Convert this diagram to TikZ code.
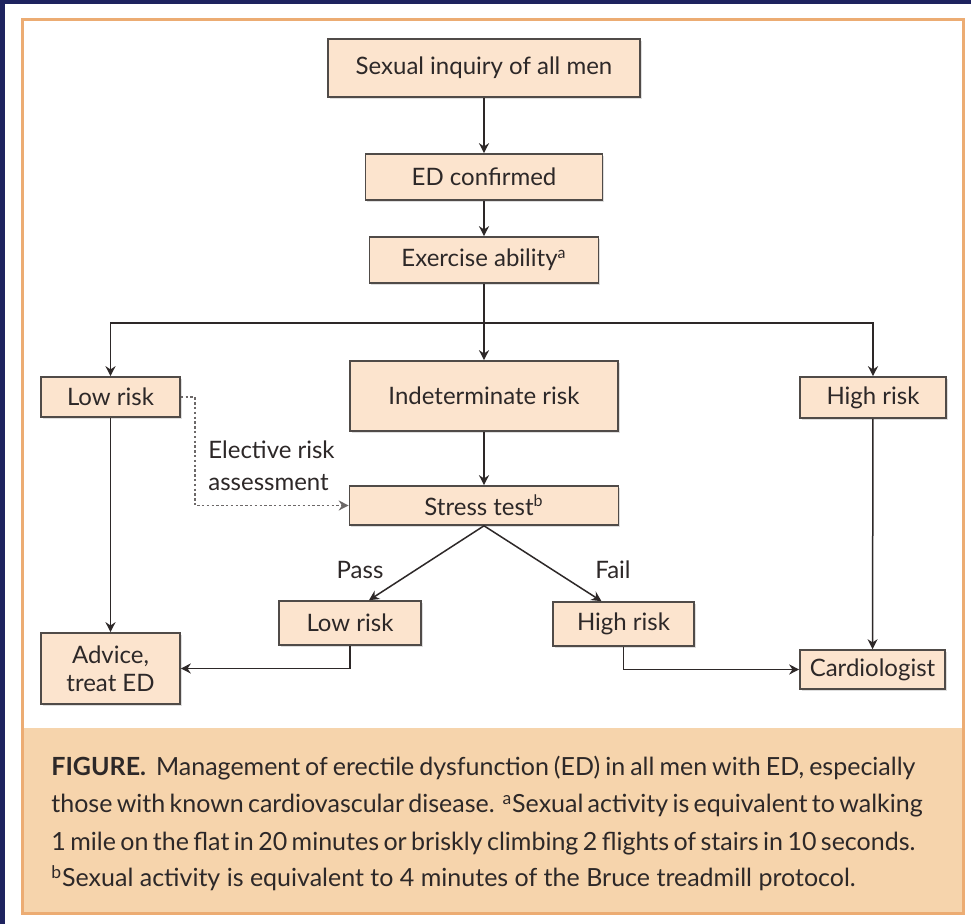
\documentclass[tikz,border=0pt]{standalone}
\usepackage{fontspec}
\setmainfont{Lato}
\newfontfamily\capfont{Lato}
\usetikzlibrary{arrows.meta,calc,shadows}
\definecolor{navy}{RGB}{30,35,95}
\definecolor{frameor}{RGB}{236,172,115}
\definecolor{capfill}{RGB}{246,212,172}
\definecolor{boxfill}{RGB}{252,228,206}
\definecolor{boxline}{RGB}{80,75,72}
\definecolor{ink}{RGB}{45,40,40}
\begin{document}
\begin{tikzpicture}[x=0.5pt,y=-0.5pt,
 bx/.style={draw=boxline, fill=boxfill, line width=0.8pt, inner sep=0pt, font=\fontsize{12}{14}\selectfont, text=ink, align=center,
   drop shadow={shadow xshift=0.8pt, shadow yshift=-0.8pt, fill=black!25, opacity=0.5}},
 lbl/.style={inner sep=0pt, font=\fontsize{12}{16}\selectfont, text=ink},
 captxt/.style={inner sep=0pt, font=\capfont\fontsize{12.5}{15}\selectfont, text=ink},
 ln/.style={draw=ink, line width=0.75pt},
 arr/.style={ln, -{Stealth[length=5pt,width=5pt]}},
 dotarr/.style={draw=ink!70, line width=0.75pt, dash pattern=on 1.2pt off 1.2pt, -{Stealth[length=5pt,width=5pt]}},
]
\fill[navy] (0,0) rectangle (971,924);
\fill[white] (5,4) rectangle (971,924);
\fill[capfill] (22,728) rectangle (963,914);
\draw[frameor, line width=1.5pt] (22,20) rectangle (963,914);
\useasboundingbox (0,0) rectangle (971,924);

\node[bx, minimum width=156pt, minimum height=29pt] (b1) at (484,68) {Sexual inquiry of all men};
\node[bx, minimum width=118.5pt, minimum height=23pt] (b2) at (484,177) {ED confirmed};
\node[bx, minimum width=114.5pt, minimum height=23pt] (b3) at (484,260) {Exercise ability\textsuperscript{a}};
\node[bx, minimum width=69.5pt, minimum height=20pt] (lowL) at (110.5,397) {Low risk};
\node[bx, minimum width=134pt, minimum height=35pt] (ind) at (484,396) {Indeterminate risk};
\node[bx, minimum width=73pt, minimum height=20.5pt] (highR) at (873,397.5) {High risk};
\node[bx, minimum width=134.5pt, minimum height=19.5pt] (stress) at (484,505.5) {Stress test\textsuperscript{b}};
\node[bx, minimum width=71pt, minimum height=22pt] (lowR2) at (350,623) {Low risk};
\node[bx, minimum width=70.5pt, minimum height=22pt] (highR2) at (623.5,624) {High risk};
\node[bx, minimum width=69.5pt, minimum height=35.5pt] (adv) at (110.5,668.5) {Advice,\\treat ED};
\node[bx, minimum width=72.5pt, minimum height=19.5pt] (card) at (872.5,669.5) {Cardiologist};

\coordinate (split) at (484,323);

\draw[arr] (b1) -- (b2);
\draw[arr] (b2) -- (b3);
\draw[ln] (b3.south) -- (split);
\draw[arr] (split) -- (ind.north);
\draw[arr] (split) -| (lowL.north);
\draw[arr] (split) -| (highR.north);
\draw[arr] (ind) -- (stress);
\draw[dotarr] (lowL.east) -- ++(14,0) |- (stress.west);
\node[lbl, anchor=west, align=left] (elect) at (208,466) {Elective risk\\assessment};
\draw[arr] (stress.south) -- ($(lowR2.north)+(19,0)$);
\draw[arr] (stress.south) -- ($(highR2.north)+(-22,0)$);
\node[lbl] (pass) at (360,570) {Pass};
\node[lbl] (fail) at (613,570) {Fail};
\draw[arr] (lowL) -- (adv);
\draw[arr] (highR) -- (card);
\draw[arr] (lowR2.south) |- (adv.east);
\draw[arr] (highR2.south) |- (card.west);

\node[captxt, anchor=base west] (c1) at (51,776) {\makebox[432pt][s]{\textbf{FIGURE.}\ \ Management of erectile dysfunction (ED) in all men with ED, especially}};
\node[captxt, anchor=base west] (c2) at (51,813) {\makebox[432pt][s]{those with known cardiovascular disease. \textsuperscript{a}Sexual activity is equivalent to walking}};
\node[captxt, anchor=base west] (c3) at (51,851) {\makebox[432pt][s]{1 mile on the flat in 20 minutes or briskly climbing 2 flights of stairs in 10 seconds.}};
\node[captxt, anchor=base west] (c4) at (51,887) {\textsuperscript{b}Sexual activity is equivalent to 4 minutes of the Bruce treadmill protocol.};
\end{tikzpicture}
\end{document}
